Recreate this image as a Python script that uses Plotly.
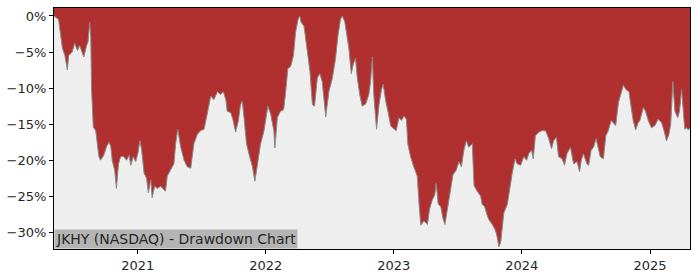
import plotly.graph_objects as go

dates = [
    "2020-05-07", "2020-05-20", "2020-05-26", "2020-05-31", "2020-06-07", "2020-06-14", "2020-06-18",
    "2020-06-28", "2020-07-05", "2020-07-13", "2020-07-19", "2020-07-25", "2020-07-31", "2020-08-08",
    "2020-08-12", "2020-08-17", "2020-08-20", "2020-08-22", "2020-08-27", "2020-09-03", "2020-09-08",
    "2020-09-12", "2020-09-17", "2020-09-26", "2020-10-04", "2020-10-11", "2020-10-16", "2020-10-20",
    "2020-10-27", "2020-11-01", "2020-11-07", "2020-11-13", "2020-11-22", "2020-11-30", "2020-12-07",
    "2020-12-12", "2020-12-19", "2020-12-26",
    "2021-01-01", "2021-01-07", "2021-01-12", "2021-01-19", "2021-01-26", "2021-01-31", "2021-02-07",
    "2021-02-11", "2021-02-18", "2021-02-26", "2021-03-07", "2021-03-12", "2021-03-21", "2021-03-26",
    "2021-04-05", "2021-04-14", "2021-04-19", "2021-04-25", "2021-05-03", "2021-05-13", "2021-05-22",
    "2021-06-01", "2021-06-10", "2021-06-20", "2021-06-29", "2021-07-09", "2021-07-18", "2021-07-28",
    "2021-08-06", "2021-08-16", "2021-08-25", "2021-09-02", "2021-09-09", "2021-09-13", "2021-09-23",
    "2021-09-29", "2021-10-07", "2021-10-15", "2021-10-21", "2021-10-26", "2021-10-31", "2021-11-07",
    "2021-11-16", "2021-11-24", "2021-12-01", "2021-12-08", "2021-12-17", "2021-12-27",
    "2022-01-02", "2022-01-07", "2022-01-15", "2022-01-24", "2022-01-27", "2022-02-03", "2022-02-12",
    "2022-02-21", "2022-02-26", "2022-03-05", "2022-03-13", "2022-03-21", "2022-03-27", "2022-04-03",
    "2022-04-08", "2022-04-12", "2022-04-20", "2022-04-29", "2022-05-07", "2022-05-14", "2022-05-20",
    "2022-05-28", "2022-06-04", "2022-06-11", "2022-06-21", "2022-06-30", "2022-07-10", "2022-07-19",
    "2022-07-26", "2022-08-02", "2022-08-07", "2022-08-14", "2022-08-21", "2022-08-26", "2022-09-02",
    "2022-09-08", "2022-09-14", "2022-09-19", "2022-09-26", "2022-10-03", "2022-10-13", "2022-10-22",
    "2022-10-27", "2022-11-01", "2022-11-05", "2022-11-13", "2022-11-20", "2022-11-27", "2022-12-02",
    "2022-12-09", "2022-12-17", "2022-12-23",
    "2023-01-02", "2023-01-08", "2023-01-16", "2023-01-23", "2023-01-30", "2023-02-06", "2023-02-10",
    "2023-02-18", "2023-02-27", "2023-03-09", "2023-03-14", "2023-03-19", "2023-03-28", "2023-04-07",
    "2023-04-13", "2023-04-21", "2023-04-28", "2023-05-02", "2023-05-08", "2023-05-15", "2023-05-21",
    "2023-05-27", "2023-06-03", "2023-06-12", "2023-06-19", "2023-06-28", "2023-07-06", "2023-07-13",
    "2023-07-20", "2023-07-27", "2023-08-03", "2023-08-13", "2023-08-18", "2023-08-27", "2023-09-06",
    "2023-09-10", "2023-09-17", "2023-09-25", "2023-09-29", "2023-10-09", "2023-10-16", "2023-10-21",
    "2023-10-28", "2023-11-02", "2023-11-11", "2023-11-21", "2023-11-28", "2023-12-05", "2023-12-13",
    "2023-12-19", "2023-12-29",
    "2024-01-07", "2024-01-15", "2024-01-21", "2024-01-29", "2024-02-03", "2024-02-09", "2024-02-19",
    "2024-02-28", "2024-03-09", "2024-03-18", "2024-03-26", "2024-04-01", "2024-04-09", "2024-04-15",
    "2024-04-25", "2024-05-02", "2024-05-09", "2024-05-19", "2024-05-28", "2024-06-07", "2024-06-14",
    "2024-06-19", "2024-06-25", "2024-07-05", "2024-07-10", "2024-07-17", "2024-07-24", "2024-07-31",
    "2024-08-05", "2024-08-12", "2024-08-21", "2024-08-28", "2024-09-04", "2024-09-12", "2024-09-18",
    "2024-09-25", "2024-10-03", "2024-10-10", "2024-10-17", "2024-10-24", "2024-11-02", "2024-11-07",
    "2024-11-14", "2024-11-21", "2024-11-28", "2024-12-03", "2024-12-13", "2024-12-19", "2024-12-27",
    "2025-01-05", "2025-01-15", "2025-01-24", "2025-02-03", "2025-02-10", "2025-02-17", "2025-02-24",
    "2025-03-01", "2025-03-07", "2025-03-13", "2025-03-21", "2025-03-26", "2025-04-01", "2025-04-05",
    "2025-04-10", "2025-04-15", "2025-04-20", "2025-04-25",
]

drawdown_pct = [
    0.0, -0.5, -2.7, -4.5, -5.5, -7.5, -5.5,
    -5.0, -3.8, -4.8, -4.1, -5.0, -5.7, -4.1,
    -3.6, -0.9, -3.1, -10.0, -15.4, -15.9, -17.7,
    -19.5, -20.0, -19.3, -18.1, -17.5, -18.1, -20.0,
    -21.4, -23.9, -20.5, -19.5, -19.5, -20.0, -19.3,
    -20.7, -19.5, -20.2,
    -19.1, -17.3, -18.6, -21.8, -22.5, -24.5, -22.7,
    -25.2, -23.6, -23.9, -23.6, -23.9, -24.3, -22.2,
    -21.4, -20.5, -17.7, -15.7, -18.1, -20.0, -20.9,
    -21.1, -17.7, -16.4, -15.9, -15.7, -13.6, -11.1,
    -11.6, -10.5, -10.9, -10.5, -11.6, -13.2, -13.4,
    -14.3, -16.1, -14.5, -12.3, -11.8, -14.1, -17.7,
    -19.5, -20.9, -22.9, -20.5, -17.8, -15.9,
    -13.6, -12.5, -13.6, -15.9, -18.3, -14.1, -13.2,
    -13.0, -10.9, -7.3, -7.0, -5.5, -2.3, -0.5,
    0.0, -0.9, -1.4, -4.5, -7.7, -12.3, -12.5,
    -8.6, -8.0, -9.1, -14.0, -10.5, -8.6, -5.9,
    -2.7, -0.5, 0.0, -0.7, -2.7, -4.5, -8.0,
    -6.6, -5.9, -8.6, -10.9, -12.5, -12.2, -10.9,
    -9.1, -5.7, -10.9, -15.7, -12.3, -10.2, -9.5,
    -11.8, -13.6, -15.2,
    -15.7, -15.9, -14.1, -14.5, -13.9, -14.3, -17.7,
    -19.5, -20.9, -22.2, -25.9, -29.0, -28.4, -28.9,
    -26.8, -25.5, -24.8, -23.2, -26.1, -26.4, -28.0,
    -28.9, -26.8, -24.1, -22.0, -21.4, -20.2, -20.9,
    -18.6, -17.3, -18.2, -17.7, -23.5, -24.3, -25.0,
    -26.1, -26.4, -27.7, -28.2, -28.9, -29.5, -30.2,
    -32.0, -31.4, -27.3, -26.1, -23.6, -21.8, -19.8,
    -20.5, -20.7,
    -19.5, -20.0, -19.1, -18.6, -19.8, -16.6, -16.1,
    -15.9, -15.9, -17.0, -18.4, -17.3, -16.8, -19.5,
    -19.8, -20.7, -19.1, -18.2, -20.5, -20.2, -21.6,
    -20.0, -19.1, -20.5, -20.7, -18.6, -18.2, -17.0,
    -18.2, -19.5, -19.8, -16.6, -15.9, -14.5, -14.8,
    -15.2, -12.0, -10.9, -9.6, -10.2, -10.5, -12.3,
    -14.5, -15.8, -14.8, -14.5, -12.7, -13.2, -14.5,
    -15.5, -15.2, -14.3, -14.8, -15.9, -17.3, -16.4,
    -15.0, -9.1, -13.2, -14.1, -13.2, -10.2, -13.2,
    -15.7, -15.5, -15.8, -15.5,
]

y_tick_vals = [0, -5, -10, -15, -20, -25, -30]
y_tick_text = ["0%", "\u22125%", "\u221210%", "\u221215%", "\u221220%", "\u221225%", "\u221230%"]
x_tick_vals = ["2021-01-01", "2022-01-01", "2023-01-01", "2024-01-01", "2025-01-01"]
x_tick_text = ["2021", "2022", "2023", "2024", "2025"]
title_text = "JKHY (NASDAQ) - Drawdown Chart"

y_min, y_max = -32.3, 1.1

fig = go.Figure()
fig.add_trace(go.Scatter(
    x=dates, y=[y_min] * len(dates), mode="lines",
    line=dict(width=0, color="rgba(0,0,0,0)"), hoverinfo="skip", showlegend=False,
))
fig.add_trace(go.Scatter(
    x=dates, y=drawdown_pct, mode="lines", fill="tonexty",
    fillcolor="#eeeeee", line=dict(color="#8a8a8a", width=1),
    showlegend=False,
))

font_family = "DejaVu Sans, sans-serif"
fig.update_layout(
    width=700, height=280,
    margin=dict(l=53, r=10, t=7, b=28),
    paper_bgcolor="white",
    plot_bgcolor="#b03030",
    font=dict(family=font_family, size=13, color="#262626"),
    showlegend=False,
    xaxis=dict(
        type="date", range=[dates[0], dates[-1]],
        tickvals=x_tick_vals, ticktext=x_tick_text,
        showgrid=False, zeroline=False,
        showline=True, linecolor="black", linewidth=1, mirror=True,
        ticks="outside", ticklen=4, tickcolor="black", tickwidth=1,
        tickfont=dict(size=13, color="#262626"),
    ),
    yaxis=dict(
        range=[y_min, y_max],
        tickvals=y_tick_vals, ticktext=y_tick_text,
        showgrid=False, zeroline=False,
        showline=True, linecolor="black", linewidth=1, mirror=True,
        ticks="outside", ticklen=4, tickcolor="black", tickwidth=1,
        tickfont=dict(size=13, color="#262626"),
    ),
    annotations=[dict(
        text=title_text, xref="paper", yref="paper", x=0, y=0,
        xanchor="left", yanchor="bottom", showarrow=False,
        bgcolor="#b4b4b4", borderpad=1,
        font=dict(family=font_family, size=14, color="#262626"),
    )],
)

fig.write_html("out.html")
